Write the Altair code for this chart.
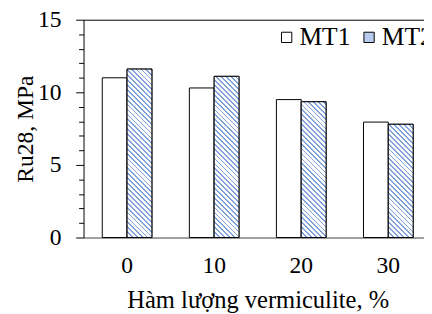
import altair as alt
import pandas as pd

categories = ["0", "10", "20", "30"]
series = ["MT1", "MT2"]
mt1 = [11.0, 10.3, 9.5, 7.95]
mt2 = [11.6, 11.1, 9.35, 7.8]

FONT = "Liberation Serif"
W, H = 347, 222
X_RANGE = 355
Y_MAX = 15

rows = []
for c, a, b in zip(categories, mt1, mt2):
    rows.append({"cat": c, "series": "MT1", "val": a})
    rows.append({"cat": c, "series": "MT2", "val": b})
df = pd.DataFrame(rows)

x_scale = alt.Scale(paddingInner=0.43, paddingOuter=0.215, range=[0, X_RANGE])
x_enc = alt.X("cat:N", sort=categories, scale=x_scale,
              axis=alt.Axis(title="Hàm lượng vermiculite, %", labelAngle=0,
                            ticks=False, labelPadding=17, titlePadding=10,
                            titleFontSize=25, domainColor="#404040"))
x_top = alt.X("cat:N", sort=categories, scale=x_scale,
              axis=alt.Axis(orient="top", title=None, labels=False, ticks=False,
                            domainColor="black"))
x_none = alt.X("cat:N", sort=categories, scale=x_scale, axis=None)
xo_enc = alt.XOffset("series:N", scale=alt.Scale(domain=series, paddingInner=0, paddingOuter=0))
y_enc = alt.Y("val:Q", scale=alt.Scale(domain=[0, Y_MAX], nice=False),
              axis=alt.Axis(title="Ru28, MPa", values=list(range(0, 16)),
                            labelExpr="datum.value % 5 === 0 ? datum.label : ''",
                            tickSize={"condition": {"test": "datum.value % 5 === 0", "value": 8}, "value": 5},
                            labelPadding=15, titlePadding=0, grid=False,
                            domainColor="black", tickColor="black"))

base = alt.Chart(df).mark_bar(stroke="black", strokeWidth=1).encode(
    x=x_enc, xOffset=xo_enc, y=y_enc,
    color=alt.Color("series:N", scale=alt.Scale(domain=series, range=["white", "#b7cbee"]),
                    legend=alt.Legend(title=None, orient="none", legendX=194, legendY=5,
                                      direction="horizontal", symbolType="square",
                                      symbolSize=110, symbolStrokeColor="black",
                                      symbolStrokeWidth=1, labelFont=FONT, labelFontSize=26,
                                      columnPadding=6, labelOffset=0, symbolOpacity=1)),
)

# hatched fill overlays for MT2 bars
step = X_RANGE / 4.0
bar_w = step * 0.57 / 2
period = 5.0
stripe = 1.8
blue = "#7fa1de"
layers = [base]
for i, (c, v) in enumerate(zip(categories, mt2)):
    h = v / Y_MAX * H
    lam = (bar_w + h) / (bar_w ** 2 + h ** 2)
    total = bar_w + h
    stops = []
    n = int(total / period) + 1
    for k in range(n + 1):
        t0 = k * period / total
        t1 = (k * period + stripe) / total
        t2 = (k + 1) * period / total
        if t0 > 1:
            break
        stops.append({"offset": min(t0, 1), "color": blue})
        stops.append({"offset": min(t1, 1), "color": blue})
        stops.append({"offset": min(t1, 1), "color": "#ffffff"})
        stops.append({"offset": min(t2, 1), "color": "#ffffff"})
    grad = {"gradient": "linear", "x1": 0, "y1": 1, "x2": lam * bar_w, "y2": 1 - lam * h,
            "stops": stops}
    layer = alt.Chart(df).transform_filter(
        (alt.datum.cat == c) & (alt.datum.series == "MT2")
    ).mark_bar(fill=grad, stroke="black", strokeWidth=1).encode(
        x=x_top if i == 0 else x_none, xOffset=xo_enc, y=y_enc)
    layers.append(layer)

chart = alt.layer(*layers).resolve_axis(x="independent").properties(
    width=W, height=H,
    autosize=alt.AutoSizeParams(type="none"),
    padding={"left": 77, "top": 9, "right": 0, "bottom": 75},
).configure(background="white").configure_view(stroke=None).configure_axis(
    labelFont=FONT, labelFontSize=24, titleFont=FONT, titleFontSize=24,
    titleFontWeight="normal", labelColor="black", titleColor="black", domainWidth=1,
)

chart.save("out.html", embed_options={"renderer": "svg", "actions": False})
